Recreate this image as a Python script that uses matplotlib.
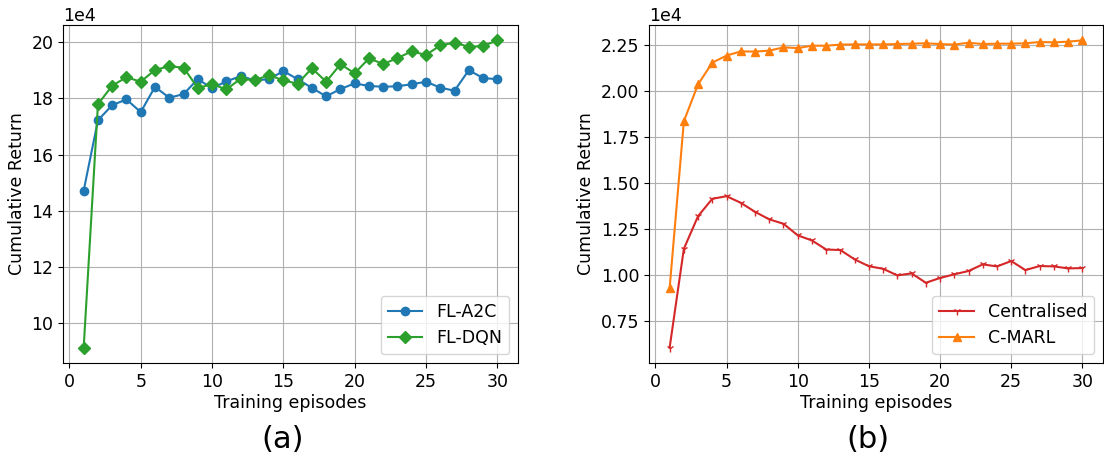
import matplotlib
matplotlib.use("Agg")
import matplotlib.pyplot as plt
import numpy as np

episodes = list(range(1, 31))

fl_a2c = [14.72, 17.22, 17.76, 17.96, 17.51, 18.41, 18.02, 18.15, 18.68, 18.36,
          18.60, 18.79, 18.64, 18.68, 18.97, 18.68, 18.37, 18.07, 18.33, 18.53,
          18.44, 18.41, 18.43, 18.50, 18.59, 18.38, 18.27, 19.00, 18.72, 18.68]
fl_dqn = [9.14, 17.79, 18.45, 18.75, 18.59, 19.01, 19.14, 19.09, 18.37, 18.50,
          18.32, 18.69, 18.65, 18.82, 18.64, 18.52, 19.07, 18.59, 19.21, 18.89,
          19.42, 19.22, 19.43, 19.67, 19.54, 19.88, 19.98, 19.83, 19.86, 20.06]
centralised = [0.605, 1.143, 1.321, 1.415, 1.429, 1.393, 1.344, 1.303, 1.279, 1.216,
               1.188, 1.139, 1.136, 1.085, 1.048, 1.034, 0.998, 1.009, 0.958, 0.984,
               1.004, 1.022, 1.058, 1.047, 1.076, 1.027, 1.049, 1.047, 1.036, 1.038]
c_marl = [0.929, 1.837, 2.038, 2.156, 2.194, 2.217, 2.216, 2.221, 2.239, 2.235,
          2.248, 2.248, 2.254, 2.255, 2.255, 2.255, 2.257, 2.259, 2.261, 2.257,
          2.254, 2.264, 2.257, 2.259, 2.259, 2.261, 2.268, 2.266, 2.270, 2.277]

SCALE = 1e4
FS = 12.5

fig = plt.figure(figsize=(11.04, 4.59), dpi=100)
ax1 = fig.add_axes([63/1104, 1-363/459, 455/1104, 338/459])
ax2 = fig.add_axes([649/1104, 1-363/459, 454/1104, 338/459])

ax1.plot(episodes, np.array(fl_a2c)*SCALE, marker='o', markersize=6, color='#1f77b4', label='FL-A2C')
ax1.plot(episodes, np.array(fl_dqn)*SCALE, marker='D', markersize=6, color='#2ca02c', label='FL-DQN')

ax2.plot(episodes, np.array(centralised)*SCALE, marker='1', markersize=6, color='#d62728', label='Centralised')
ax2.plot(episodes, np.array(c_marl)*SCALE, marker='^', markersize=6, color='#ff7f0e', label='C-MARL')

for ax in (ax1, ax2):
    ax.grid(True)
    ax.set_xlabel('Training episodes', fontsize=FS, labelpad=2)
    ax.set_ylabel('Cumulative Return', fontsize=FS)
    ax.tick_params(labelsize=FS)
    ax.ticklabel_format(style='sci', scilimits=(4, 4), axis='y')
    ax.yaxis.get_offset_text().set_fontsize(FS)
    ax.set_xticks([0, 5, 10, 15, 20, 25, 30])
    ax.legend(loc='lower right', fontsize=FS)

fig.text(283/1104, 1-440/459, '(a)', fontsize=22, ha='center', va='center')
fig.text(868/1104, 1-440/459, '(b)', fontsize=22, ha='center', va='center')

fig.savefig('out.png', dpi=100)
